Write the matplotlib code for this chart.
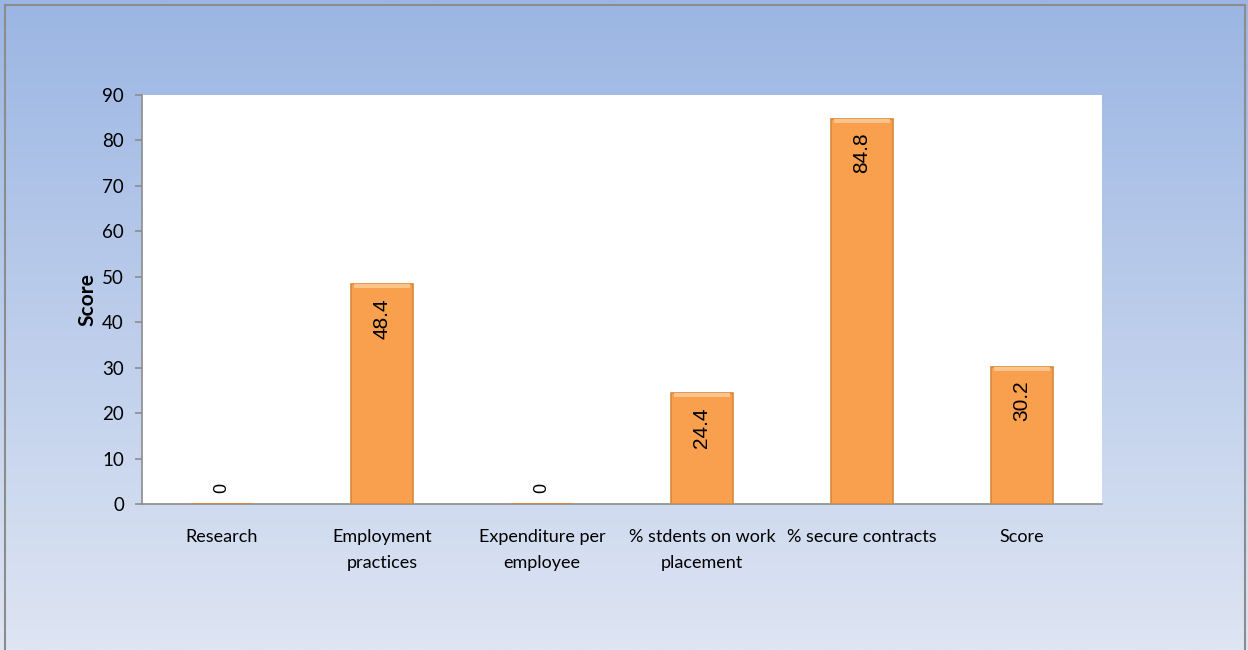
import numpy as np
import matplotlib
matplotlib.use("Agg")
import matplotlib.pyplot as plt
from matplotlib.patches import Rectangle

categories = ["Research", "Employment\npractices", "Expenditure per\nemployee",
              "% stdents on work\nplacement", "% secure contracts", "Score"]
values = [0, 48.4, 0, 24.4, 84.8, 30.2]
labels = ["0", "48.4", "0", "24.4", "84.8", "30.2"]
yticks = [0, 10, 20, 30, 40, 50, 60, 70, 80, 90]

W, H = 1248, 650
fig = plt.figure(figsize=(W / 100, H / 100), dpi=100)

# gradient background
bg = fig.add_axes([0, 0, 1, 1], zorder=-10)
top = np.array([155, 182, 227]) / 255
bot = np.array([222, 229, 243]) / 255
t = np.linspace(0, 1, 256)[:, None]
grad = top[None, :] * (1 - t) + bot[None, :] * t
bg.imshow(grad[:, None, :], aspect="auto", extent=[0, 1, 0, 1], origin="upper")
bg.add_patch(Rectangle((5 / W, -0.01), (W - 8) / W, 1 - 5 / H + 0.01, fill=False,
                       edgecolor="#8c8c8c", linewidth=1.5, transform=bg.transAxes))
bg.set_xlim(0, 1); bg.set_ylim(0, 1)
bg.axis("off")

ax = fig.add_axes([142 / W, (H - 504) / H, 960 / W, 409 / H])
ax.set_facecolor("white")
x = np.arange(len(categories))
bars = ax.bar(x, values, width=0.39, color="#F9A04E", edgecolor="#D8873C", linewidth=1.2, zorder=3)
# light top bevel
for b, v in zip(bars, values):
    if v > 0:
        ax.bar(b.get_x() + b.get_width() / 2, 0.9, bottom=v - 0.9, width=b.get_width() * 0.9,
               color="#FCC48A", linewidth=0, zorder=4)

ax.set_xlim(-0.5, len(categories) - 0.5)
ax.set_ylim(0, 90)
ax.set_yticks(yticks)
ax.set_xticks(x)
ax.set_xticklabels(categories, fontsize=13, family="Lato", linespacing=1.8)
ax.set_yticklabels([str(v) for v in yticks], fontsize=13.5, family="Lato")
ax.tick_params(axis="x", length=0, pad=18)
ax.tick_params(axis="y", length=5, width=1.2, color="#8c8c8c", pad=8, direction="out")
for s in ["top", "right"]:
    ax.spines[s].set_visible(False)
for s in ["left", "bottom"]:
    ax.spines[s].set_color("#8c8c8c")
    ax.spines[s].set_linewidth(1.2)
ax.set_ylabel("Score", fontsize=15, fontweight="bold", family="Lato", labelpad=3)

for xi, v, lab in zip(x, values, labels):
    if v > 0:
        ax.annotate(lab, xy=(xi, v), xytext=(0, -10), textcoords="offset points",
                    rotation=90, ha="center", va="top", fontsize=15,
                    family="Liberation Sans", zorder=5)
    else:
        ax.annotate(lab, xy=(xi, 0), xytext=(0, 8), textcoords="offset points",
                    rotation=90, ha="center", va="bottom", fontsize=13,
                    family="Liberation Sans", zorder=5)

fig.savefig("out.png", dpi=100)
